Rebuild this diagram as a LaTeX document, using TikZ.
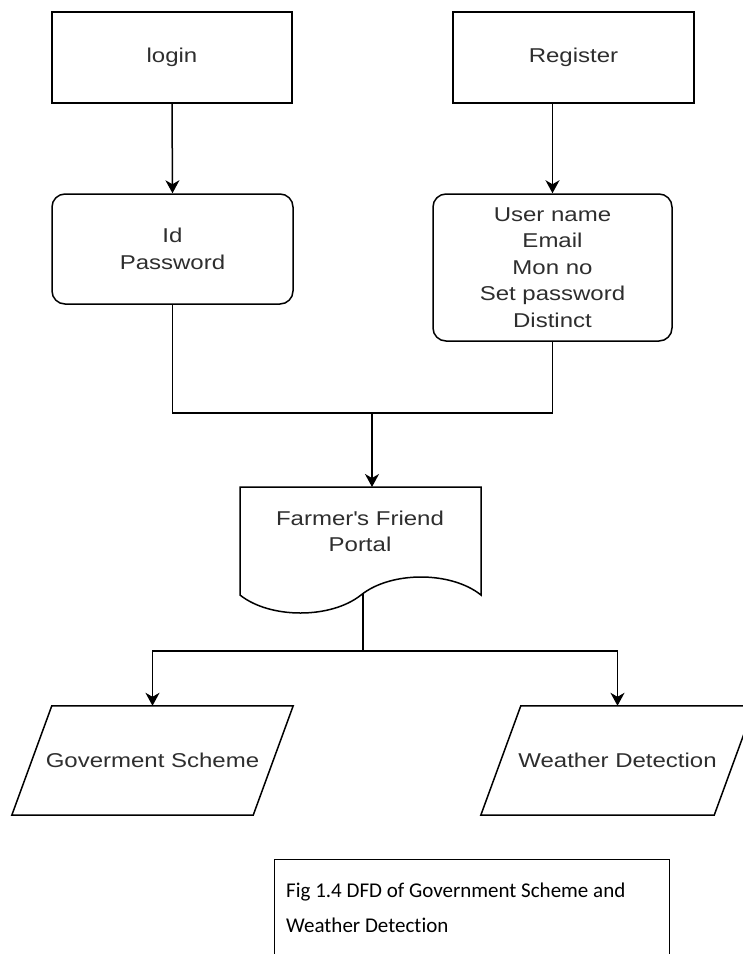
\documentclass[tikz,border=0pt]{standalone}
\usepackage{fontspec}
\setmainfont{Liberation Sans}[FakeStretch=1.2]
\newfontfamily\capfont{Carlito}[Ligatures=NoCommon]
\usetikzlibrary{arrows.meta}
\begin{document}
\begin{tikzpicture}[x=1pt,y=-1pt,
  ln/.style={draw=black, line width=1.5pt},
  arr/.style={ln, -{Stealth[length=13pt,width=14pt,inset=4pt]}},
  txt/.style={font=\fontsize{20}{26.5}\selectfont, text=black!82, align=center, inner sep=0pt},
  box/.style={ln, txt, inner sep=0pt},
  rbox/.style={box, rounded corners=13pt}]
\clip (0,0) rectangle (743,954);
\fill[white] (0,0) rectangle (743,954);
% top boxes
\node[box, minimum width=240pt, minimum height=91pt] (login) at (172,57.5) {login};
\node[box, minimum width=241pt, minimum height=91pt] (reg) at (573.5,57.5) {Register};
\node[rbox, minimum width=241pt, minimum height=110pt] (id) at (172.5,249) {Id\\Password};
\node[rbox, minimum width=239pt, minimum height=147pt] (user) at (552.5,267.5)
  {User name\\Email\\Mon no\\Set password\\Distinct};
\draw[arr] (login.south) -- (id.north);
\draw[arr] (reg.south -| user.north) -- (user.north);
% join
\coordinate (jl) at (id.south |- 0,413);
\coordinate (jr) at (user.south |- 0,413);
\coordinate (jm) at (372,413);
\coordinate (doctop) at (372,487);
\draw[ln] (id.south) -- (jl) -- (jr) -- (user.south);
\draw[arr] (jm) -- (doctop);
% document shape
\node[txt] (doc) at (360,531.5) {Farmer\textquotesingle s Friend\\Portal};
\draw[ln] (240,487) -- (481,487) -- (481,595)
  .. controls (451,571) and (391,571) .. (361,595)
  .. controls (331,619) and (270,619) .. (240,595) -- cycle;
\coordinate (ds) at (363,594);
\coordinate (br) at (363,651);
% outputs
\node[txt, minimum width=281pt, minimum height=109pt] (gov) at (152.5,760.5) {Goverment Scheme};
\node[txt, minimum width=273pt, minimum height=109pt] (wea) at (617.5,760.5) {Weather Detection};
\draw[ln] (gov.south west) -- ([xshift=40pt]gov.north west) -- (gov.north east) -- ([xshift=-40pt]gov.south east) -- cycle;
\draw[ln] (wea.south west) -- ([xshift=40pt]wea.north west) -- (wea.north east) -- ([xshift=-40pt]wea.south east) -- cycle;
\draw[ln] (ds) -- (br);
\draw[arr] (br) -| (gov.north);
\draw[arr] (br) -| (wea.north);
% caption
\node[draw=black, line width=1.3pt, minimum width=395pt, minimum height=130pt, anchor=north west, inner sep=0pt] (capbox) at (274,859) {};
\node[anchor=north west, align=left, inner sep=0pt, font=\capfont\fontsize{21}{35}\selectfont] (cap) at (286,883)
  {Fig 1.4 DFD of Government Scheme and\\Weather Detection};
\end{tikzpicture}
\end{document}
